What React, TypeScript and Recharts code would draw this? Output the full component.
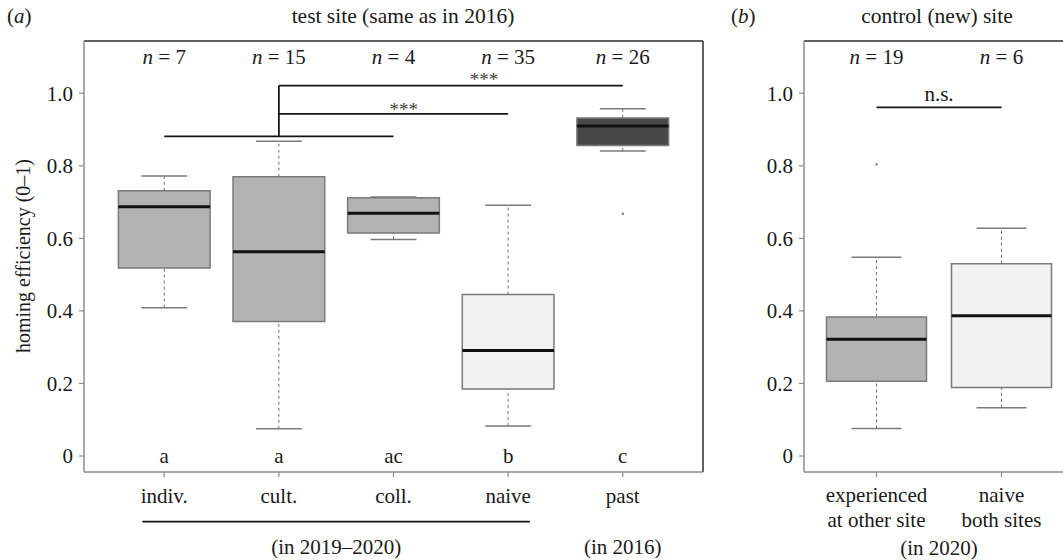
import React from 'react';
import {
  ComposedChart,
  XAxis,
  YAxis,
  ReferenceArea,
  ReferenceLine,
  ReferenceDot,
  Scatter,
} from 'recharts';

const FONT = '"Liberation Serif", "Times New Roman", Times, serif';
const TEXT = '#1a1a1a';
const AXIS_GREY = '#8c8c8c';
const BOX_EDGE = '#7a7a7a';
const WHISKER = '#707070';
const FRAME = '#2b2b2b';
const BRACKET = '#151515';

// ---------- panel (a): test site ----------
const categoriesA = ['indiv.', 'cult.', 'coll.', 'naive', 'past'];
const subLabelsA = ['', '', '', '', '(in 2016)'];
const countsA = [7, 15, 4, 35, 26];
const lettersA = ['a', 'a', 'ac', 'b', 'c'];
const lowerWhiskerA = [0.409, 0.075, 0.597, 0.083, 0.841];
const q1A = [0.518, 0.371, 0.615, 0.185, 0.856];
const medianA = [0.687, 0.563, 0.669, 0.291, 0.91];
const q3A = [0.731, 0.77, 0.712, 0.445, 0.932];
const upperWhiskerA = [0.772, 0.868, 0.714, 0.691, 0.957];
const fillA = ['#b3b3b3', '#b3b3b3', '#b3b3b3', '#f2f2f2', '#484848'];
const outliersA = [{ x: 5, y: 0.668 }];
const bracketsA = [
  { x1: 1, x2: 3, y1: 0.881, y2: 0.881 },
  { x1: 2, x2: 2, y1: 0.881, y2: 1.021 },
  { x1: 2, x2: 4, y1: 0.943, y2: 0.943 },
  { x1: 2, x2: 5, y1: 1.021, y2: 1.021 },
];
const starsA = [
  { x: 3.09, y: 0.956, text: '***' },
  { x: 3.79, y: 1.037, text: '***' },
];
const groupSpanA = { x1: 0.81, x2: 4.19, text: '(in 2019–2020)' };

// ---------- panel (b): control site ----------
const categoriesB = [
  ['experienced', 'at other site'],
  ['naive', 'both sites'],
];
const countsB = [19, 6];
const lowerWhiskerB = [0.076, 0.133];
const q1B = [0.206, 0.189];
const medianB = [0.322, 0.387];
const q3B = [0.383, 0.53];
const upperWhiskerB = [0.548, 0.628];
const fillB = ['#b3b3b3', '#f2f2f2'];
const outliersB = [{ x: 1, y: 0.804 }];
const bracketsB = [{ x1: 1, x2: 2, y1: 0.961, y2: 0.961 }];
const nsB = [{ x: 1.5, y: 0.998, text: 'n.s.' }];
const groupLabelB = { x: 1.5, text: '(in 2020)' };

const yTicks = [0, 0.2, 0.4, 0.6, 0.8, 1.0];

// layout constants (value space)
const Y_DOMAIN: [number, number] = [-0.044, 1.144];
const N_LABEL_Y = 1.099;
const LETTER_Y = 0;
const GROUP_LINE_Y = -0.181;
const GROUP_TEXT_Y = -0.253;
const BOX_HALF = 0.4;
const CAP_HALF = 0.2;

const textStyle = { fontFamily: FONT, fontSize: 21, fill: TEXT };

const CountShape = (props: any) => {
  const { cx, cy, payload } = props;
  return (
    <text x={cx} y={cy} textAnchor="middle" dominantBaseline="central" style={textStyle}>
      <tspan fontStyle="italic">n</tspan>
      {` = ${payload.n}`}
    </text>
  );
};

const PlainTextShape = (props: any) => {
  const { cx, cy, payload } = props;
  return (
    <text x={cx} y={cy} textAnchor="middle" dominantBaseline="central" style={textStyle}>
      {payload.text}
    </text>
  );
};

const StarShape = (props: any) => {
  const { cx, cy, payload } = props;
  return (
    <text
      x={cx}
      y={cy}
      textAnchor="middle"
      dominantBaseline="central"
      style={{ ...textStyle, fontSize: 19, fill: '#444' }}
    >
      {payload.text}
    </text>
  );
};

const DotShape = (props: any) => {
  const { cx, cy } = props;
  return <circle cx={cx} cy={cy} r={1.2} fill="#777" />;
};

const GroupLabel = (props: any) => {
  const { viewBox, text, dy } = props;
  if (!viewBox) return null;
  return (
    <text
      x={viewBox.x + (viewBox.width || 0) / 2}
      y={viewBox.y + (viewBox.height || 0) / 2 + dy}
      textAnchor="middle"
      dominantBaseline="central"
      style={textStyle}
    >
      {text}
    </text>
  );
};

const TickA = (props: any) => {
  const { x, y, payload } = props;
  const i = Math.round(payload.value) - 1;
  return (
    <g>
      <text x={x} y={y + 17} textAnchor="middle" dominantBaseline="central" style={textStyle}>
        {categoriesA[i]}
      </text>
      {subLabelsA[i] ? (
        <text x={x} y={y + 68} textAnchor="middle" dominantBaseline="central" style={textStyle}>
          {subLabelsA[i]}
        </text>
      ) : null}
    </g>
  );
};

const TickB = (props: any) => {
  const { x, y, payload } = props;
  const i = Math.round(payload.value) - 1;
  const lines = categoriesB[i] || [];
  return (
    <g>
      {lines.map((l, k) => (
        <text
          key={k}
          x={x}
          y={y + 16 + k * 25}
          textAnchor="middle"
          dominantBaseline="central"
          style={textStyle}
        >
          {l}
        </text>
      ))}
    </g>
  );
};

function boxes(
  prefix: string,
  lo: number[],
  q1: number[],
  med: number[],
  q3: number[],
  hi: number[],
  fills: string[]
) {
  const els: React.ReactNode[] = [];
  med.forEach((m, i) => {
    const p = i + 1;
    els.push(
      <ReferenceLine
        key={`${prefix}-wu-${i}`}
        segment={[{ x: p, y: q3[i] }, { x: p, y: hi[i] }]}
        stroke={WHISKER}
        strokeWidth={1}
        strokeDasharray="3 3"
        ifOverflow="visible"
      />,
      <ReferenceLine
        key={`${prefix}-wl-${i}`}
        segment={[{ x: p, y: lo[i] }, { x: p, y: q1[i] }]}
        stroke={WHISKER}
        strokeWidth={1}
        strokeDasharray="3 3"
        ifOverflow="visible"
      />,
      <ReferenceLine
        key={`${prefix}-cu-${i}`}
        segment={[{ x: p - CAP_HALF, y: hi[i] }, { x: p + CAP_HALF, y: hi[i] }]}
        stroke={BOX_EDGE}
        strokeWidth={1.5}
        ifOverflow="visible"
      />,
      <ReferenceLine
        key={`${prefix}-cl-${i}`}
        segment={[{ x: p - CAP_HALF, y: lo[i] }, { x: p + CAP_HALF, y: lo[i] }]}
        stroke={BOX_EDGE}
        strokeWidth={1.5}
        ifOverflow="visible"
      />,
      <ReferenceArea
        key={`${prefix}-box-${i}`}
        x1={p - BOX_HALF}
        x2={p + BOX_HALF}
        y1={q1[i]}
        y2={q3[i]}
        fill={fills[i]}
        fillOpacity={1}
        stroke={BOX_EDGE}
        strokeWidth={1.5}
        ifOverflow="visible"
      />,
      <ReferenceLine
        key={`${prefix}-med-${i}`}
        segment={[{ x: p - BOX_HALF, y: m }, { x: p + BOX_HALF, y: m }]}
        stroke="#111"
        strokeWidth={3}
        ifOverflow="visible"
      />
    );
  });
  return els;
}

function brackets(prefix: string, list: { x1: number; x2: number; y1: number; y2: number }[]) {
  return list.map((b, i) => (
    <ReferenceLine
      key={`${prefix}-br-${i}`}
      segment={[{ x: b.x1, y: b.y1 }, { x: b.x2, y: b.y2 }]}
      stroke={BRACKET}
      strokeWidth={1.8}
      ifOverflow="visible"
    />
  ));
}

const fmt = (v: number) => (v === 0 ? '0' : v.toFixed(1));

export default function App() {
  const countDataA = countsA.map((n, i) => ({ x: i + 1, y: N_LABEL_Y, n }));
  const letterDataA = lettersA.map((t, i) => ({ x: i + 1, y: LETTER_Y, text: t }));
  const countDataB = countsB.map((n, i) => ({ x: i + 1, y: N_LABEL_Y, n }));
  const xDomA: [number, number] = [0.3, 5.7];
  const xDomB: [number, number] = [0.42, 2.58];

  return (
    <div
      style={{
        position: 'absolute',
        left: 0,
        top: 0,
        width: 1063,
        height: 560,
        overflow: 'hidden',
        background: '#fff',
        fontFamily: FONT,
      }}
    >
      <div style={{ position: 'absolute', left: 0, top: 0 }}>
        <ComposedChart width={720} height={560} margin={{ top: 41, right: 17, bottom: 0, left: 0 }}>
          <XAxis
            type="number"
            dataKey="x"
            domain={xDomA}
            ticks={[1, 2, 3, 4, 5]}
            allowDataOverflow
            height={88}
            tickSize={5}
            tick={<TickA />}
            tickLine={{ stroke: AXIS_GREY, strokeWidth: 1.2 }}
            axisLine={{ stroke: AXIS_GREY, strokeWidth: 1.5 }}
            interval={0}
          />
          <YAxis
            type="number"
            dataKey="y"
            domain={Y_DOMAIN}
            ticks={yTicks}
            allowDataOverflow
            width={84}
            tickSize={5}
            tickMargin={6}
            tickFormatter={fmt}
            tick={textStyle}
            tickLine={{ stroke: AXIS_GREY, strokeWidth: 1.2 }}
            axisLine={{ stroke: AXIS_GREY, strokeWidth: 1.5 }}
            interval={0}
          />
          <ReferenceLine y={Y_DOMAIN[1]} stroke={FRAME} strokeWidth={1.5} ifOverflow="visible" />
          <ReferenceLine x={xDomA[1]} stroke={FRAME} strokeWidth={1.5} ifOverflow="visible" />
          {boxes('a', lowerWhiskerA, q1A, medianA, q3A, upperWhiskerA, fillA)}
          {brackets('a', bracketsA)}
          <ReferenceLine
            segment={[
              { x: groupSpanA.x1, y: GROUP_LINE_Y },
              { x: groupSpanA.x2, y: GROUP_LINE_Y },
            ]}
            stroke={BRACKET}
            strokeWidth={1.8}
            ifOverflow="visible"
            label={<GroupLabel text={groupSpanA.text} dy={25} />}
          />
          <Scatter data={outliersA} dataKey="y" shape={<DotShape />} isAnimationActive={false} />
          <Scatter data={countDataA} dataKey="y" shape={<CountShape />} isAnimationActive={false} />
          <Scatter data={letterDataA} dataKey="y" shape={<PlainTextShape />} isAnimationActive={false} />
          <Scatter data={starsA} dataKey="y" shape={<StarShape />} isAnimationActive={false} />
        </ComposedChart>
      </div>

      <div style={{ position: 'absolute', left: 720, top: 0 }}>
        <ComposedChart width={354} height={560} margin={{ top: 41, right: 0, bottom: 0, left: 0 }}>
          <XAxis
            type="number"
            dataKey="x"
            domain={xDomB}
            ticks={[1, 2]}
            allowDataOverflow
            height={88}
            tickSize={5}
            tick={<TickB />}
            tickLine={{ stroke: AXIS_GREY, strokeWidth: 1.2 }}
            axisLine={{ stroke: AXIS_GREY, strokeWidth: 1.5 }}
            interval={0}
          />
          <YAxis
            type="number"
            dataKey="y"
            domain={Y_DOMAIN}
            ticks={yTicks}
            allowDataOverflow
            width={84}
            tickSize={5}
            tickMargin={6}
            tickFormatter={fmt}
            tick={textStyle}
            tickLine={{ stroke: AXIS_GREY, strokeWidth: 1.2 }}
            axisLine={{ stroke: AXIS_GREY, strokeWidth: 1.5 }}
            interval={0}
          />
          <ReferenceLine y={Y_DOMAIN[1]} stroke={FRAME} strokeWidth={1.5} ifOverflow="visible" />
          <ReferenceLine x={xDomB[1]} stroke={FRAME} strokeWidth={1.5} ifOverflow="visible" />
          {boxes('b', lowerWhiskerB, q1B, medianB, q3B, upperWhiskerB, fillB)}
          {brackets('b', bracketsB)}
          <ReferenceDot
            x={groupLabelB.x}
            y={GROUP_TEXT_Y}
            r={0}
            fill="none"
            stroke="none"
            ifOverflow="visible"
            label={<GroupLabel text={groupLabelB.text} dy={0} />}
          />
          <Scatter data={outliersB} dataKey="y" shape={<DotShape />} isAnimationActive={false} />
          <Scatter data={countDataB} dataKey="y" shape={<CountShape />} isAnimationActive={false} />
          <Scatter data={nsB} dataKey="y" shape={<PlainTextShape />} isAnimationActive={false} />
        </ComposedChart>
      </div>

      <svg
        width={1063}
        height={560}
        style={{ position: 'absolute', left: 0, top: 0, pointerEvents: 'none' }}
      >
        <text x={7} y={16} dominantBaseline="central" style={textStyle}>
          (<tspan fontStyle="italic">a</tspan>)
        </text>
        <text x={403} y={16} textAnchor="middle" dominantBaseline="central" style={{ ...textStyle, fontSize: 21.5 }}>
          test site (same as in 2016)
        </text>
        <text x={731} y={16} dominantBaseline="central" style={textStyle}>
          (<tspan fontStyle="italic">b</tspan>)
        </text>
        <text x={937} y={16} textAnchor="middle" dominantBaseline="central" style={{ ...textStyle, fontSize: 21.5 }}>
          control (new) site
        </text>
        <text
          x={23}
          y={256}
          textAnchor="middle"
          dominantBaseline="central"
          transform="rotate(-90 23 256)"
          style={{ ...textStyle, fontSize: 20 }}
        >
          homing efficiency (0–1)
        </text>
      </svg>
    </div>
  );
}
